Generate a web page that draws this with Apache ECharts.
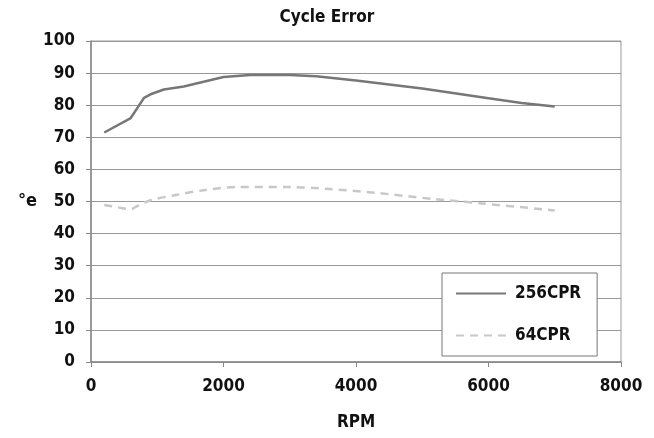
<!DOCTYPE html>
<html><head><meta charset="utf-8">
<script src="https://cdn.jsdelivr.net/npm/echarts@6/dist/echarts.min.js"></script>
<style>html,body{margin:0;padding:0;background:#fff}#c{width:654px;height:438px}</style>
</head><body><div id="c"></div>
<script>
const seriesNames = ['256CPR', '64CPR'];
const rpm256 = [200, 600, 800, 900, 1100, 1400, 1700, 2000, 2400, 3000, 3400, 4000, 5000, 6000, 6500, 7000];
const val256 = [71.5, 76, 82.3, 83.4, 84.9, 85.8, 87.3, 88.8, 89.4, 89.4, 89.0, 87.7, 85.2, 82.2, 80.7, 79.6];
const rpm64 = [200, 400, 600, 700, 900, 1300, 1700, 2200, 3000, 3600, 4300, 5200, 5900, 7000];
const val64 = [48.9, 48.2, 47.6, 48.6, 50.4, 52.1, 53.5, 54.5, 54.5, 53.9, 52.7, 50.7, 49.4, 47.2];
const xTicks = [0, 2000, 4000, 6000, 8000];
const yTicks = [0, 10, 20, 30, 40, 50, 60, 70, 80, 90, 100];

const font = '"DejaVu Sans Condensed","Liberation Sans Narrow",sans-serif';
const chart = echarts.init(document.getElementById('c'));
chart.setOption({
  animation: false,
  title: { text: 'Cycle Error', left: 'center', top: 4,
    textStyle: { fontFamily: font, fontWeight: 'bold', fontSize: 17, color: '#111' } },
  grid: { left: 91, right: 33, top: 41, bottom: 76, show: true, borderColor: '#999', borderWidth: 1 },
  xAxis: { type: 'value', min: xTicks[0], max: xTicks[xTicks.length - 1], interval: 2000,
    name: 'RPM', nameLocation: 'middle', nameGap: 52,
    nameTextStyle: { fontFamily: font, fontWeight: 'bold', fontSize: 17, color: '#111' },
    axisLine: { lineStyle: { color: '#888', width: 1.5 } },
    axisTick: { show: true, length: 5, lineStyle: { color: '#888' } },
    splitLine: { show: false },
    axisLabel: { fontFamily: font, fontWeight: 'bold', fontSize: 17, color: '#111', margin: 16,
      formatter: v => String(v) } },
  yAxis: { type: 'value', min: yTicks[0], max: yTicks[yTicks.length - 1], interval: 10,
    name: '°e', nameLocation: 'middle', nameGap: 54, nameRotate: 0,
    nameTextStyle: { fontFamily: font, fontWeight: 'bold', fontSize: 18, color: '#111' },
    axisLine: { show: true, lineStyle: { color: '#888', width: 1.5 } },
    axisTick: { show: true, length: 5, lineStyle: { color: '#888' } },
    splitLine: { lineStyle: { color: '#999', width: 1 } },
    axisLabel: { fontFamily: font, fontWeight: 'bold', fontSize: 17, color: '#111', margin: 16 } },
  legend: { orient: 'vertical', left: 442, top: 273, itemWidth: 50, itemHeight: 14, itemGap: 25,
    padding: [12, 16, 12, 13], borderColor: '#777', borderWidth: 1, backgroundColor: '#fff',
    itemStyle: { color: 'transparent', borderWidth: 0 },
    textStyle: { fontFamily: font, fontWeight: 'bold', fontSize: 17, color: '#111', padding: [0, 0, 0, 4] },
    data: seriesNames },
  series: [
    { name: seriesNames[0], type: 'line', symbol: 'none', z: 3,
      data: rpm256.map((x, i) => [x, val256[i]]),
      lineStyle: { color: '#777', width: 2.5 }, itemStyle: { color: '#777' } },
    { name: seriesNames[1], type: 'line', symbol: 'none', smooth: 0.3, z: 2,
      data: rpm64.map((x, i) => [x, val64[i]]),
      lineStyle: { color: '#c8c8c8', width: 2.5, type: [8, 6] }, itemStyle: { color: '#c8c8c8' } }
  ]
});
</script></body></html>
